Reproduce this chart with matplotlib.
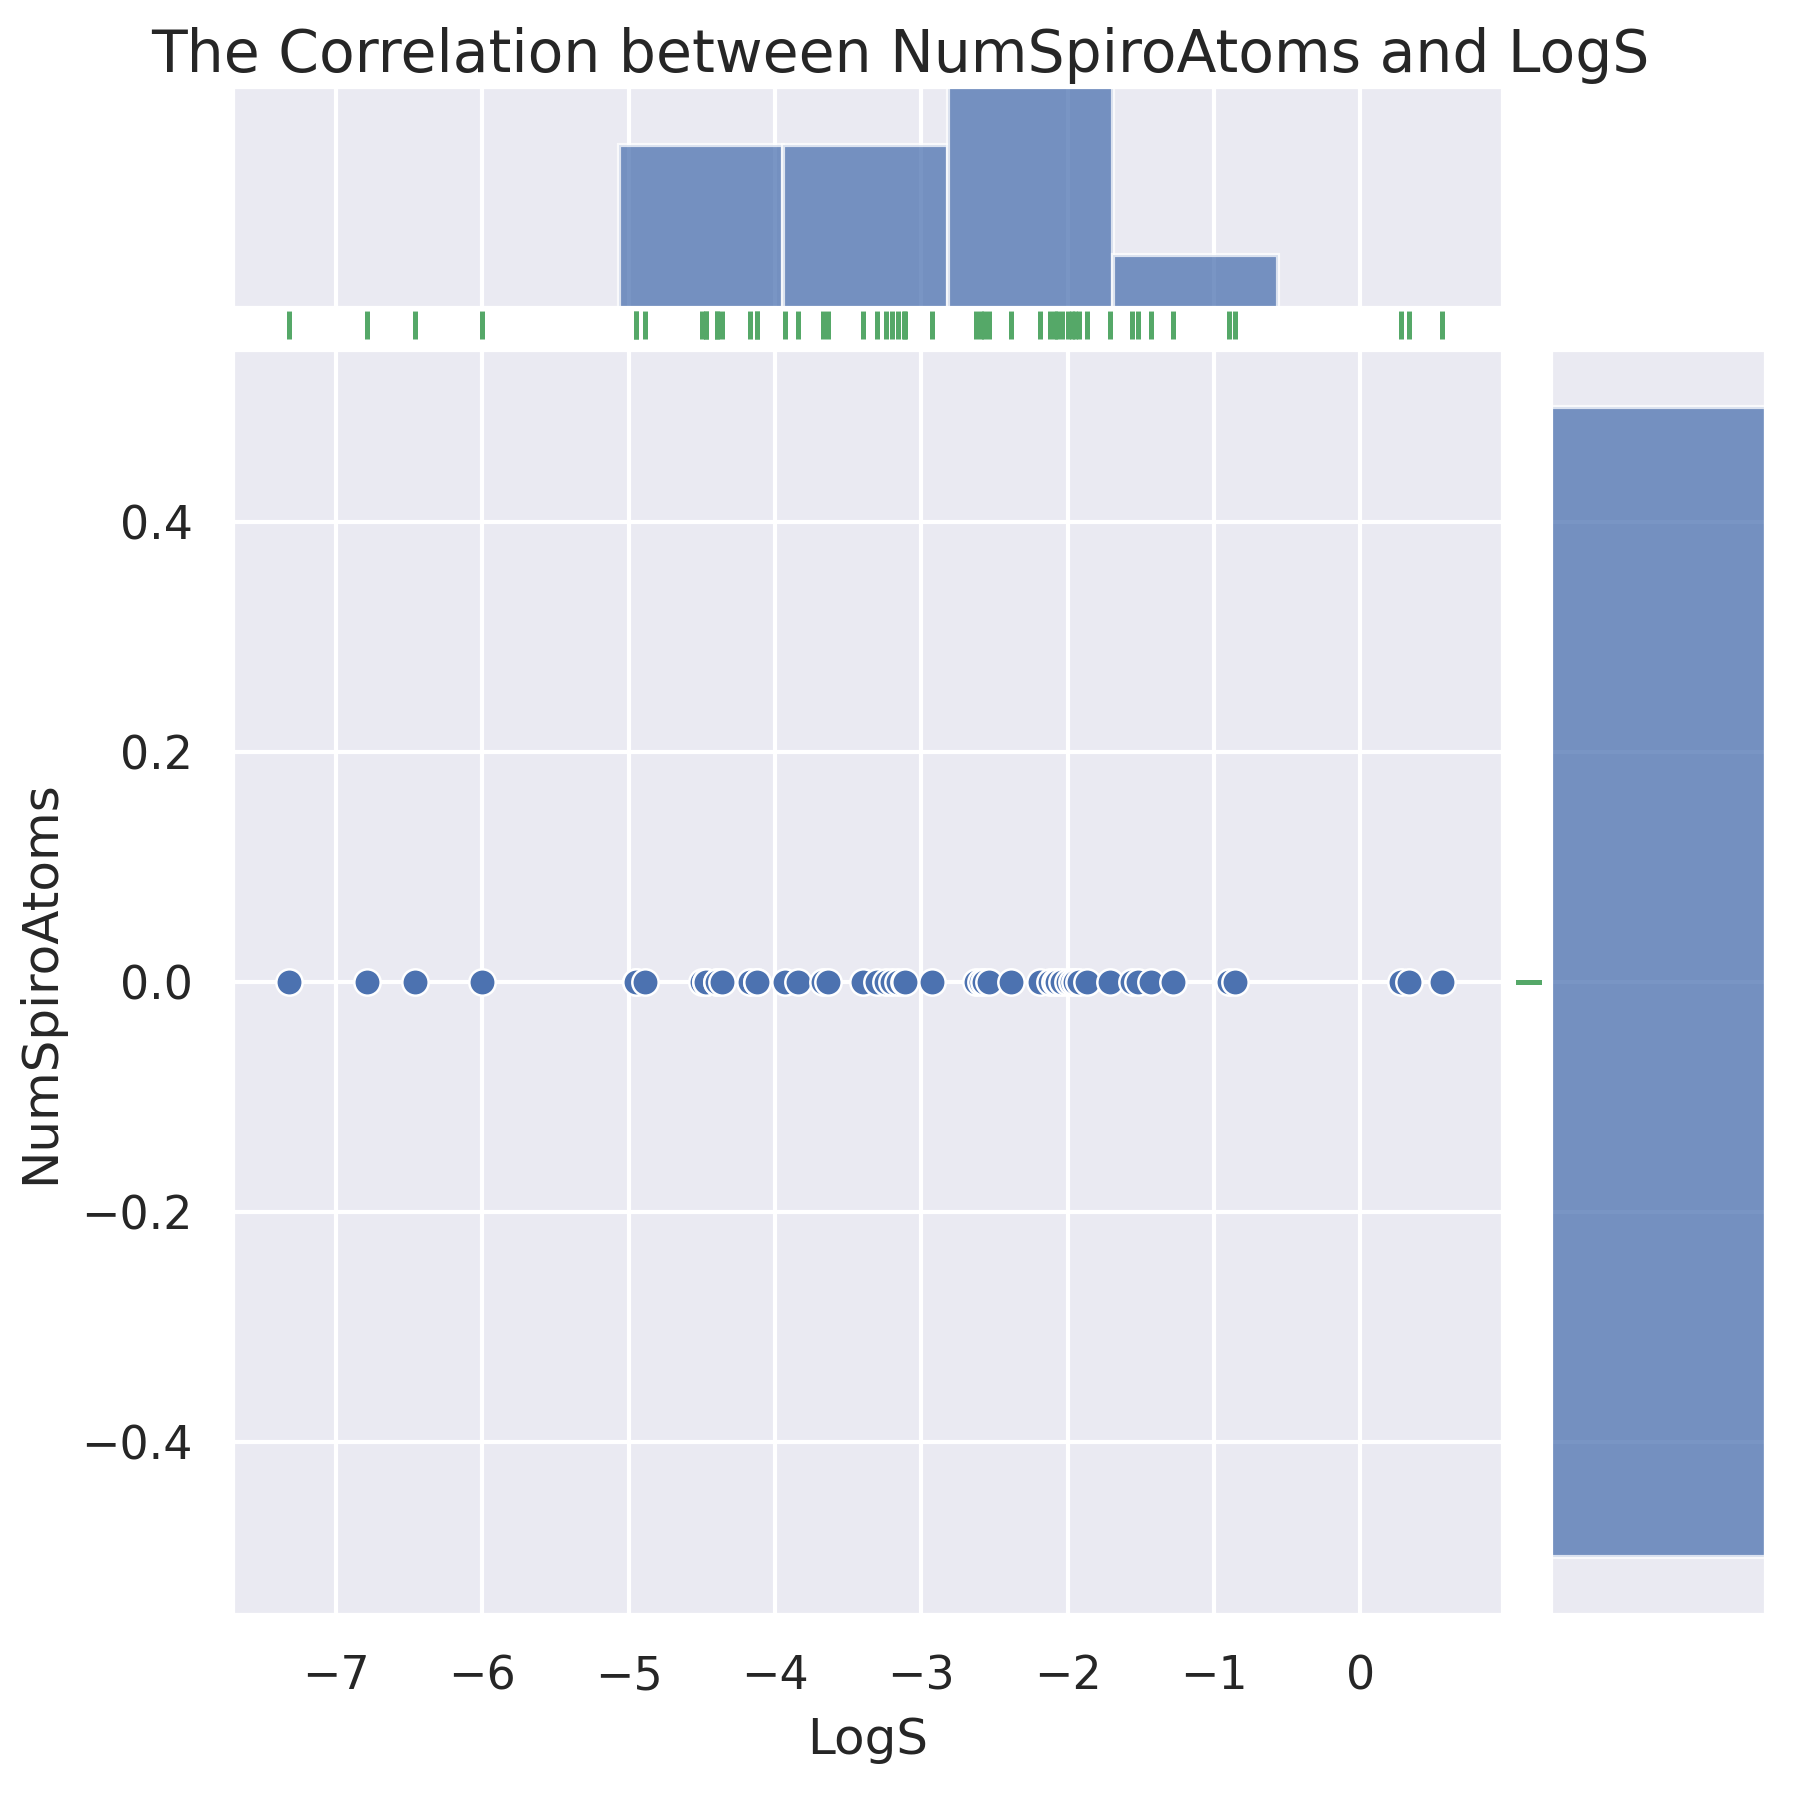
import matplotlib
matplotlib.use("Agg")
import matplotlib.pyplot as plt
import seaborn as sns
import numpy as np

sns.set_theme(style="darkgrid")

logS = [-7.32, -6.79, -6.46, -6.00, -4.95, -4.95, -4.89, -4.50, -4.47, -4.47,
        -4.40, -4.40, -4.36, -4.17, -4.12, -4.12, -3.93, -3.84, -3.67, -3.64,
        -3.40, -3.30, -3.24, -3.20, -3.16, -3.12, -3.11, -2.93, -2.63, -2.59,
        -2.57, -2.54, -2.39, -2.19, -2.12, -2.09, -2.07, -2.04, -2.00, -1.97,
        -1.95, -1.92, -1.87, -1.71, -1.56, -1.52, -1.43, -1.28, -0.90, -0.86,
        0.28, 0.33, 0.56]
num_spiro = [0] * len(logS)

fig = plt.figure(figsize=(6, 6), dpi=300)
ax = fig.add_axes([0.129, 0.103, 0.706, 0.703])
axx = fig.add_axes([0.129, 0.829, 0.706, 0.123], sharex=ax)
axy = fig.add_axes([0.861, 0.103, 0.120, 0.703], sharey=ax)

blue = sns.color_palette()[0]
green = sns.color_palette()[2]

ax.scatter(logS, num_spiro, s=40, color=blue, edgecolor="white", linewidth=0.6, zorder=3)
ax.set_xlabel("LogS")
ax.set_ylabel("NumSpiroAtoms")
ax.set_ylim(-0.55, 0.55)
ax.set_yticks([-0.4, -0.2, 0.0, 0.2, 0.4])

bins = np.linspace(min(logS), max(logS), 8)
axx.hist(logS, bins=bins, color=blue, alpha=0.75, edgecolor="white", linewidth=1)
axx.set_ylim(3.1, 15.2)
axy.hist(num_spiro, bins=[-0.5, 0.5], orientation="horizontal", color=blue, alpha=0.75,
         edgecolor="white", linewidth=1)
axy.set_xlim(0, len(logS))

for a in (axx, axy):
    a.tick_params(labelbottom=False, labelleft=False, left=False, bottom=False)
    a.set_xlabel(""); a.set_ylabel("")
axx.set_yticks([]); axy.set_xticks([])

tx = ax.get_xaxis_transform()
ax.vlines(logS, 1.008, 1.03, transform=tx, color=green, lw=1.2, clip_on=False)
ty = ax.get_yaxis_transform()
ax.hlines(num_spiro, 1.01, 1.03, transform=ty, color=green, lw=1.2, clip_on=False)
ax.set_xlim(-7.71, 0.975)

fig.suptitle("The Correlation between NumSpiroAtoms and LogS", fontsize=14, y=0.985)
fig.savefig("out.png", dpi=300)
